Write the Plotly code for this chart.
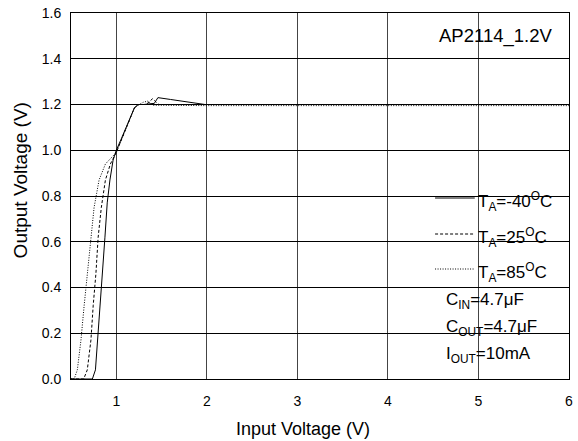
import plotly.graph_objects as go

# ---- data ----
x_m40 = [0.5, 0.6, 0.7, 0.736, 0.77, 0.795, 0.82, 0.846, 0.875, 0.9, 0.93, 0.965, 1.0, 1.05, 1.1, 1.15, 1.2, 1.24, 1.3, 1.42, 1.46, 1.6, 1.8, 1.98, 2.5, 3, 4, 5, 6]
y_m40 = [0, 0, 0, 0.0, 0.04, 0.17, 0.32, 0.46, 0.62, 0.77, 0.87, 0.957, 1.0, 1.045, 1.09, 1.14, 1.185, 1.2, 1.2, 1.205, 1.23, 1.222, 1.21, 1.2, 1.2, 1.2, 1.2, 1.2, 1.2]

x_25 = [0.5, 0.6, 0.64, 0.68, 0.72, 0.745, 0.775, 0.80, 0.835, 0.88, 0.935, 1.0, 1.05, 1.1, 1.15, 1.2, 1.25, 1.33, 1.40, 1.47, 2, 3, 4, 5, 6]
y_25 = [0, 0, 0.0, 0.04, 0.17, 0.32, 0.46, 0.62, 0.75, 0.87, 0.94, 0.99, 1.04, 1.09, 1.14, 1.185, 1.2, 1.2, 1.225, 1.2, 1.2, 1.2, 1.2, 1.2, 1.2]

x_85 = [0.5, 0.535, 0.57, 0.61, 0.645, 0.68, 0.72, 0.755, 0.81, 0.88, 1.0, 1.05, 1.1, 1.15, 1.2, 1.25, 1.3, 1.35, 1.4, 2, 3, 4, 5, 6]
y_85 = [0, 0.0, 0.04, 0.17, 0.32, 0.46, 0.62, 0.75, 0.87, 0.94, 0.99, 1.04, 1.09, 1.14, 1.185, 1.2, 1.21, 1.215, 1.197, 1.195, 1.195, 1.195, 1.195, 1.195]

x_ticks = [1, 2, 3, 4, 5, 6]
y_ticks = [0.0, 0.2, 0.4, 0.6, 0.8, 1.0, 1.2, 1.4, 1.6]

legend_labels = ["T<sub>A</sub>=-40<sup>O</sup>C", "T<sub>A</sub>=25<sup>O</sup>C", "T<sub>A</sub>=85<sup>O</sup>C"]
cond_labels = ["C<sub>IN</sub>=4.7\u03bcF", "C<sub>OUT</sub>=4.7\u03bcF", "I<sub>OUT</sub>=10mA"]
title_text = "AP2114_1.2V"
x_title = "Input Voltage (V)"
y_title = "Output Voltage (V)"

FONT = "Liberation Sans, Arial, sans-serif"
W, H = 578, 441
ML, MR, MT, MB = 71, 5, 13, 62
PW = W - ML - MR
PH = H - MT - MB

def px(xp):  # pixel -> paper x
    return (xp - ML) / PW

def py(yp):  # pixel -> paper y
    return 1 - (yp - MT) / PH

fig = go.Figure()
styles = [dict(dash="solid"), dict(dash="3px,2px"), dict(dash="1px,1.5px")]
for xs, ys, st in zip([x_m40, x_25, x_85], [y_m40, y_25, y_85], styles):
    fig.add_trace(go.Scatter(x=xs, y=ys, mode="lines", showlegend=False,
                             line=dict(color="black", width=1, **st)))

shapes = []
annos = []
# legend box (white, between gridlines and traces)
shapes.append(dict(type="rect", xref="paper", yref="paper", layer="between",
                   x0=px(434), x1=px(565), y0=py(377), y1=py(178),
                   fillcolor="white", line=dict(width=0)))
# title box
shapes.append(dict(type="rect", xref="paper", yref="paper", layer="between",
                   x0=px(440), x1=px(569), y0=py(49), y1=py(23),
                   fillcolor="white", line=dict(width=0)))
annos.append(dict(text=title_text, xref="paper", yref="paper", x=px(558), y=py(36),
                  xanchor="right", yanchor="middle", showarrow=False,
                  font=dict(family=FONT, size=18.5, color="black")))

leg_y = [198, 234, 269]
dashes = ["solid", "3px,2px", "1px,1.5px"]
for lab, yy, d in zip(legend_labels, leg_y, dashes):
    shapes.append(dict(type="line", xref="paper", yref="paper", layer="above",
                       x0=px(438), x1=px(478), y0=py(yy), y1=py(yy),
                       line=dict(color="black", width=1, dash=d)))
    annos.append(dict(text=lab, xref="paper", yref="paper", x=px(479), y=py(yy + 3),
                      xanchor="left", yanchor="middle", showarrow=False,
                      font=dict(family=FONT, size=17, color="black")))

cond_y = [301, 328, 355]
for lab, yy in zip(cond_labels, cond_y):
    annos.append(dict(text=lab, xref="paper", yref="paper", x=px(447), y=py(yy),
                      xanchor="left", yanchor="middle", showarrow=False,
                      font=dict(family=FONT, size=17, color="black")))

# axis titles
annos.append(dict(text=x_title, xref="paper", yref="paper", x=px(305), y=py(429),
                  xanchor="center", yanchor="middle", showarrow=False,
                  font=dict(family=FONT, size=18, color="black")))
annos.append(dict(text=y_title, xref="paper", yref="paper", x=px(21), y=py(180),
                  xanchor="center", yanchor="middle", showarrow=False, textangle=-90,
                  font=dict(family=FONT, size=19, color="black")))

fig.update_layout(
    width=W, height=H,
    margin=dict(l=ML, r=MR, t=MT, b=MB),
    paper_bgcolor="white", plot_bgcolor="white",
    font=dict(family=FONT, size=14, color="black"),
    shapes=shapes, annotations=annos,
    xaxis=dict(range=[0.5, 6], tickvals=x_ticks, ticktext=[str(v) for v in x_ticks],
               showgrid=True, gridcolor="#444444", gridwidth=1,
               showline=True, linecolor="black", linewidth=1, mirror=True,
               ticks="", zeroline=False, ticklabelstandoff=9,
               tickfont=dict(size=14)),
    yaxis=dict(range=[0, 1.6], tickvals=y_ticks, ticktext=[f"{v:.1f}" for v in y_ticks],
               showgrid=True, gridcolor="black", gridwidth=1,
               showline=True, linecolor="black", linewidth=1, mirror=True,
               ticks="", zeroline=False, ticklabelstandoff=6,
               tickfont=dict(size=14)),
)

fig.write_html("out.html")
